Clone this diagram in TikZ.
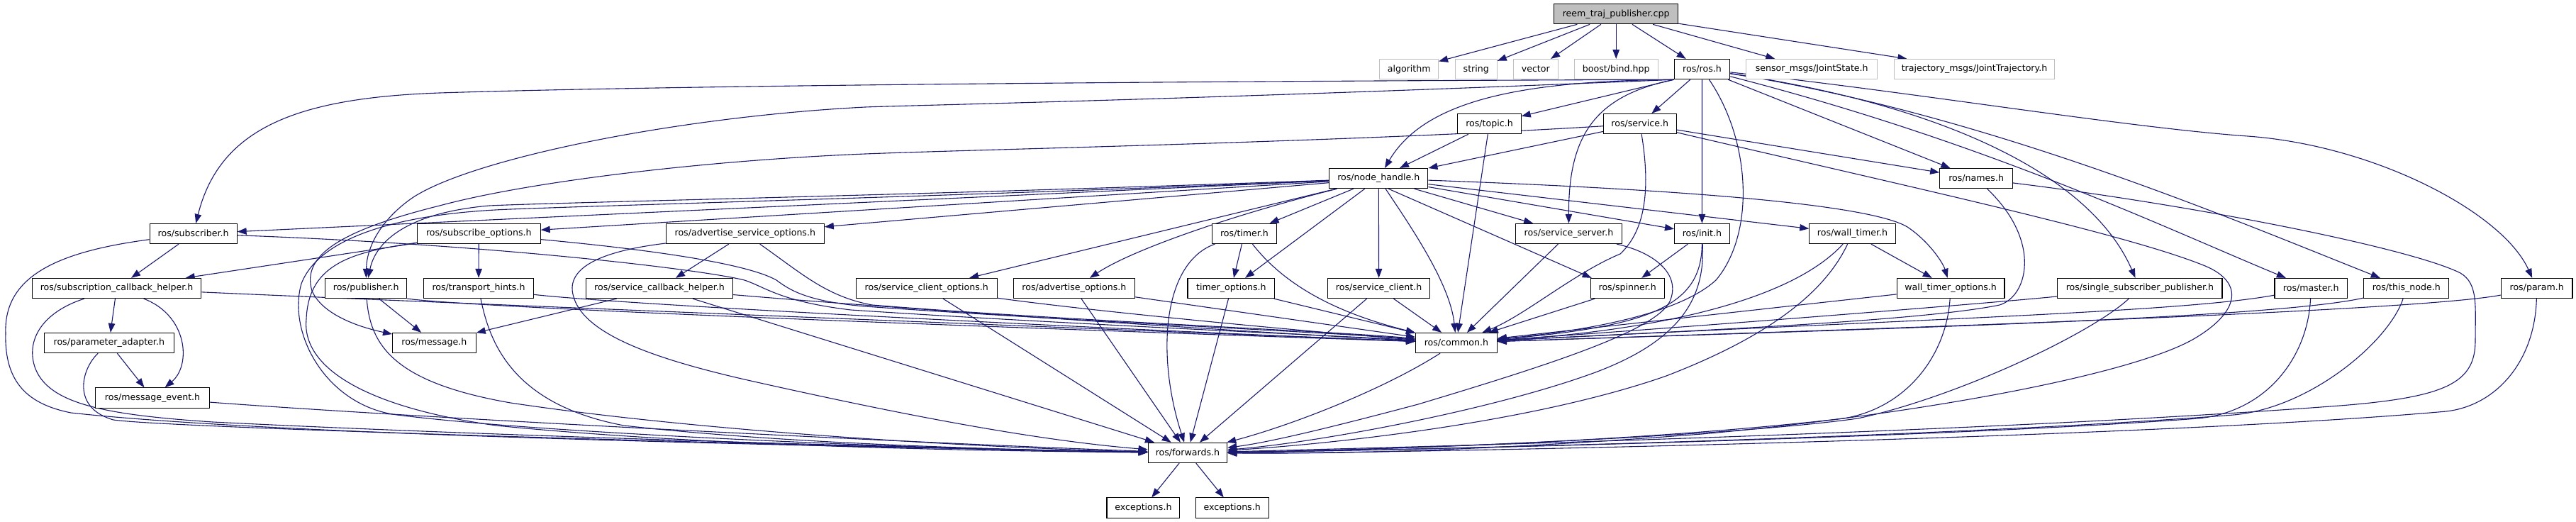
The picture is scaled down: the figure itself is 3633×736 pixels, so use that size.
\documentclass[tikz,border=0pt]{standalone}
\usepackage{fontspec}
\setmainfont{DejaVu Sans}
\usetikzlibrary{arrows.meta}
\definecolor{edgec}{RGB}{25,25,112}
\definecolor{grayb}{RGB}{191,191,191}
\definecolor{grayf}{RGB}{191,191,191}
\newcommand{\nodefont}{\fontsize{12.6pt}{15pt}\selectfont}
\pgfdeclarelayer{edgelayer}
\pgfsetlayers{edgelayer,main}
\tikzset{
  incbox/.style={draw=black, line width=1.1pt, fill=white, minimum height=28.2pt, inner sep=0pt, font=\nodefont, text=black},
  grbox/.style={incbox, draw=grayb},
  topbox/.style={incbox, fill=grayf},
  e/.style={draw=edgec, line width=1.1pt, -{Triangle[length=13pt,width=9.5pt]}},
}
\begin{document}
\begin{tikzpicture}[x=1pt,y=-1pt]
\useasboundingbox (0,0) rectangle (3633,736);
% ---------- nodes ----------
\node[topbox, minimum width=175pt] (main) at (2279.2,19.7) {reem\_traj\_publisher.cpp};
\node[grbox, minimum width=82.6pt] (alg) at (1987.2,97.6) {algorithm};
\node[grbox, minimum width=58.9pt] (str) at (2081.8,97.6) {string};
\node[grbox, minimum width=62.5pt] (vec) at (2165.8,97.6) {vector};
\node[grbox, minimum width=117.8pt] (boost) at (2279.2,97.6) {boost/bind.hpp};
\node[incbox, minimum width=78.4pt] (ros) at (2400.5,97.6) {ros/ros.h};
\node[grbox, minimum width=185.4pt] (sensor) at (2555.2,97.6) {sensor\_msgs/JointState.h};
\node[grbox, minimum width=226.6pt] (traj) at (2784.5,97.6) {trajectory\_msgs/JointTrajectory.h};
\node[incbox, minimum width=89.4pt] (topic) at (2100.5,174.6) {ros/topic.h};
\node[incbox, minimum width=102.7pt] (service) at (2312.7,174.6) {ros/service.h};
\node[incbox, minimum width=139.2pt] (nh) at (1944.3,251.6) {ros/node\_handle.h};
\node[incbox, minimum width=102.8pt] (names) at (2787.1,251.6) {ros/names.h};
\node[incbox, minimum width=123pt] (sub) at (272.6,329.5) {ros/subscriber.h};
\node[incbox, minimum width=173.7pt] (subopt) at (675.3,329.5) {ros/subscribe\_options.h};
\node[incbox, minimum width=223pt] (advsrvopt) at (1050.8,329.5) {ros/advertise\_service\_options.h};
\node[incbox, minimum width=90.5pt] (timer) at (1755,329.5) {ros/timer.h};
\node[incbox, minimum width=149.6pt] (srvserver) at (2212.5,329.5) {ros/service\_server.h};
\node[incbox, minimum width=77.8pt] (init) at (2400.4,329.5) {ros/init.h};
\node[incbox, minimum width=121.4pt] (walltimer) at (2612.5,329.5) {ros/wall\_timer.h};
\node[incbox, minimum width=238.8pt] (subcb) at (164.5,406.5) {ros/subscription\_callback\_helper.h};
\node[incbox, minimum width=115pt] (pub) at (516.2,406.5) {ros/publisher.h};
\node[incbox, minimum width=154.4pt] (transport) at (675,406.5) {ros/transport\_hints.h};
\node[incbox, minimum width=206.8pt] (srvcb) at (930,406.5) {ros/service\_callback\_helper.h};
\node[incbox, minimum width=199.3pt] (srvclopt) at (1306.8,406.5) {ros/service\_client\_options.h};
\node[incbox, minimum width=171.2pt] (advopt) at (1514.9,406.5) {ros/advertise\_options.h};
\node[incbox, minimum width=122.9pt] (timeropt) at (1736.4,406.5) {timer\_options.h};
\node[incbox, minimum width=144.3pt] (srvclient) at (1944.6,406.5) {ros/service\_client.h};
\node[incbox, minimum width=104pt] (spinner) at (2295.2,406.5) {ros/spinner.h};
\node[incbox, minimum width=151.8pt] (walltimeropt) at (2751.1,406.5) {wall\_timer\_options.h};
\node[incbox, minimum width=232.2pt] (ssp) at (3017.9,406.5) {ros/single\_subscriber\_publisher.h};
\node[incbox, minimum width=102.5pt] (master) at (3259.2,406.5) {ros/master.h};
\node[incbox, minimum width=120.2pt] (thisnode) at (3393.8,406.5) {ros/this\_node.h};
\node[incbox, minimum width=100.5pt] (param) at (3577.7,406.5) {ros/param.h};
\node[incbox, minimum width=182.6pt] (paramadapt) at (153.8,483.5) {ros/parameter\_adapter.h};
\node[incbox, minimum width=117.6pt] (message) at (612.4,483.5) {ros/message.h};
\node[incbox, minimum width=114.7pt] (common) at (2053.9,483.5) {ros/common.h};
\node[incbox, minimum width=160.6pt] (msgevent) at (215.1,561) {ros/message\_event.h};
\node[incbox, minimum width=111.5pt] (fwd) at (1674.9,638.4) {ros/forwards.h};
\node[incbox, minimum width=102.8pt] (exc1) at (1612.4,716) {exceptions.h};
\node[incbox, minimum width=102.8pt] (exc2) at (1737.7,716) {exceptions.h};
% ---------- edges ----------
\begin{pgfonlayer}{edgelayer}
% main
\draw[e] (main) -- (alg);
\draw[e] (main) -- (str);
\draw[e] (main) -- (vec);
\draw[e] (main) -- (boost);
\draw[e] (main) -- (ros);
\draw[e] (main) -- (sensor);
\draw[e] (main) -- (traj);
% ros.h
\draw[e] (ros.south west) .. controls (1500,115) and (900,122) .. (620,131) .. controls (420,138) and (310,180) .. (sub);
\draw[e] (ros.south west) .. controls (1700,140) and (1300,148) .. (1220,151) .. controls (950,165) and (660,225) .. (580,280) .. controls (535,312) and (517,350) .. (pub);
\draw[e] (ros.south west) .. controls (2150,114) and (2010,140) .. (nh);
\draw[e] (ros.south west) -- (topic);
\draw[e] (ros) -- (service);
\draw[e] (ros.south west) .. controls (2250,135) and (2212,190) .. (srvserver);
\draw[e] (ros) -- (init);
\draw[e] (ros) .. controls (2470,200) and (2475,330) .. (2420,395) .. controls (2360,450) and (2200,470) .. (common);
\draw[e] (ros) -- (names);
\draw[e] (ros) .. controls (2750,150) and (2950,250) .. (ssp);
\draw[e] (ros) .. controls (2800,200) and (3050,320) .. (master);
\draw[e] (ros) .. controls (2800,160) and (3150,310) .. (thisnode);
\draw[e] (ros) .. controls (2700,130) and (3000,180) .. (3170,192) .. controls (3350,205) and (3530,300) .. (param);
% service.h
\draw[e] (service) -- (nh);
\draw[e] (service) .. controls (1900,200) and (1400,210) .. (1220,217) .. controls (1000,226) and (750,255) .. (620,290) .. controls (480,325) and (425,360) .. (440,410) .. controls (455,445) and (510,462) .. (message);
\draw[e] (service) .. controls (2330,280) and (2315,330) .. (2285,358) .. controls (2220,385) and (2150,445) .. (common);
\draw[e] (service) -- (names);
\draw[e] (service) .. controls (2700,265) and (3000,330) .. (3110,375) .. controls (3165,398) and (3160,440) .. (3092,479) .. controls (3000,530) and (2700,585) .. (2400,612) .. controls (2100,635) and (1900,640) .. (fwd);
% names.h
\draw[e] (names) .. controls (2880,340) and (2860,418) .. (2820,430) .. controls (2700,455) and (2300,470) .. (common);
\draw[e] (names) .. controls (3100,290) and (3400,350) .. (3470,385) .. controls (3495,400) and (3491,430) .. (3491,480) .. controls (3491,540) and (3450,560) .. (3300,572) .. controls (2800,610) and (2000,630) .. (fwd);
% topic.h
\draw[e] (topic) -- (nh);
\draw[e] (topic) -- (common);
% node_handle.h
\draw[e] (nh) -- (sub);
\draw[e] (nh) -- (subopt);
\draw[e] (nh) -- (advsrvopt);
\draw[e] (nh) .. controls (1300,275) and (800,285) .. (690,290) .. controls (575,300) and (530,340) .. (pub);
\draw[e] (nh) -- (srvclopt);
\draw[e] (nh) .. controls (1750,300) and (1600,350) .. (advopt);
\draw[e] (nh) -- (timer);
\draw[e] (nh) -- (timeropt);
\draw[e] (nh) -- (srvclient);
\draw[e] (nh) .. controls (1990,320) and (2045,400) .. (common);
\draw[e] ([xshift=14pt]nh.south) -- ([xshift=2pt]spinner.north west);
\draw[e] (nh) -- (srvserver);
\draw[e] (nh) -- (init);
\draw[e] (nh) -- (walltimer);
\draw[e] (nh) .. controls (2400,268) and (2640,290) .. (2690,320) .. controls (2720,340) and (2740,370) .. (walltimeropt);
\draw[e] (nh) .. controls (1400,275) and (900,288) .. (720,295) .. controls (560,301) and (450,335) .. (425,400) .. controls (405,470) and (460,572) .. (560,585) .. controls (800,615) and (1400,636) .. (fwd);
% subscriber.h
\draw[e] (sub) -- (subcb);
\draw[e] (sub) .. controls (700,345) and (990,380) .. (1050,395) .. controls (1080,405) and (1100,425) .. (1200,437) .. controls (1500,457) and (1900,474) .. (common);
\draw[e] (sub) .. controls (80,355) and (5,390) .. (8,470) .. controls (6,540) and (40,570) .. (100,582) .. controls (400,615) and (1200,630) .. (fwd);
% subscription_callback_helper.h
\draw[e] (subcb) -- (paramadapt);
\draw[e] (subcb) .. controls (265,445) and (270,515) .. (msgevent);
\draw[e] (subcb) .. controls (60,440) and (35,480) .. (50,520) .. controls (70,570) and (150,585) .. (300,595) .. controls (700,615) and (1300,632) .. (fwd);
\draw[e] (subcb) .. controls (600,426) and (1500,462) .. (common);
% parameter_adapter.h
\draw[e] (paramadapt) -- (msgevent);
\draw[e] (paramadapt) .. controls (115,520) and (100,575) .. (160,592) .. controls (250,605) and (1300,633) .. (fwd);
% message_event.h
\draw[e] (msgevent) .. controls (600,590) and (1300,625) .. (fwd);
% publisher.h
\draw[e] (pub) -- (message);
\draw[e] (pub) .. controls (522,490) and (560,540) .. (720,568) .. controls (1000,610) and (1400,632) .. (fwd);
\draw[e] (pub.south east) .. controls (700,437) and (1600,468) .. (common);
% subscribe_options.h
\draw[e] (subopt) -- (subcb);
\draw[e] (subopt) -- (transport);
\draw[e] (subopt) .. controls (950,355) and (1060,375) .. (1095,395) .. controls (1115,410) and (1140,425) .. (1220,432) .. controls (1500,452) and (1900,470) .. (common);
\draw[e] (subopt) .. controls (500,355) and (435,370) .. (432,450) .. controls (425,520) and (520,575) .. (700,600) .. controls (1000,630) and (1400,636) .. (fwd);
% transport_hints.h
\draw[e] (transport) .. controls (900,432) and (1700,470) .. (common);
\draw[e] (transport) .. controls (690,480) and (720,570) .. (880,600) .. controls (1100,625) and (1400,634) .. (fwd);
% advertise_service_options.h
\draw[e] (advsrvopt) -- (srvcb);
\draw[e] (advsrvopt) .. controls (1130,385) and (1165,418) .. (1230,430) .. controls (1500,452) and (1900,468) .. (common);
\draw[e] (advsrvopt) .. controls (840,355) and (800,380) .. (808,415) .. controls (820,470) and (920,505) .. (1050,535) .. controls (1250,580) and (1450,620) .. (fwd);
% service_callback_helper.h
\draw[e] (srvcb) -- (message);
\draw[e] (srvcb) .. controls (1200,430) and (1700,465) .. (common);
\draw[e] (srvcb) -- (fwd);
% service_client_options.h
\draw[e] (srvclopt) .. controls (1550,440) and (1850,468) .. (common);
\draw[e] (srvclopt) -- (fwd);
% advertise_options.h
\draw[e] (advopt) -- (common);
\draw[e] (advopt) -- (fwd);
% timer.h
\draw[e] (timer) -- (timeropt);
\draw[e] (timer) .. controls (1810,400) and (1880,440) .. (common);
\draw[e] (timer) .. controls (1640,370) and (1630,500) .. (fwd);
% timer_options.h
\draw[e] (timeropt) -- (common);
\draw[e] (timeropt) -- (fwd);
% service_client.h
\draw[e] (srvclient) -- (common);
\draw[e] (srvclient) -- (fwd);
% service_server.h
\draw[e] (srvserver) -- (common);
\draw[e] (srvserver) .. controls (2330,355) and (2372,385) .. (2355,425) .. controls (2335,465) and (2200,510) .. (2000,570) .. controls (1850,610) and (1780,625) .. (fwd);
% init.h
\draw[e] (init) -- (spinner);
\draw[e] (init) .. controls (2400,430) and (2330,460) .. (common);
\draw[e] (init) .. controls (2405,420) and (2370,480) .. (2250,525) .. controls (2100,580) and (1850,625) .. (fwd);
% spinner.h
\draw[e] (spinner) -- (common);
% wall_timer.h
\draw[e] (walltimer) -- (walltimeropt);
\draw[e] (walltimer) .. controls (2530,420) and (2350,465) .. (common);
\draw[e] (walltimer) .. controls (2570,420) and (2480,480) .. (2350,530) .. controls (2150,600) and (1850,628) .. (fwd);
% wall_timer_options.h
\draw[e] (walltimeropt) -- (common);
\draw[e] (walltimeropt) .. controls (2745,500) and (2690,575) .. (2600,590) .. controls (2300,625) and (1900,635) .. (fwd);
% single_subscriber_publisher.h
\draw[e] (ssp) .. controls (2800,428) and (2400,460) .. (common);
\draw[e] (ssp) .. controls (2950,470) and (2760,560) .. (2620,590) .. controls (2420,618) and (1900,636) .. (fwd);
% master.h
\draw[e] (master) .. controls (3080,440) and (2700,450) .. (common);
\draw[e] (master) .. controls (3255,500) and (3200,580) .. (3100,590) .. controls (2700,620) and (1900,636) .. (fwd);
% this_node.h
\draw[e] (thisnode) .. controls (3200,450) and (2600,465) .. (common);
\draw[e] (thisnode) .. controls (3370,480) and (3260,575) .. (3150,585) .. controls (2700,620) and (1900,636) .. (fwd);
% param.h
\draw[e] (param) .. controls (3400,440) and (2600,465) .. (common);
\draw[e] (param) .. controls (3575,510) and (3520,572) .. (3450,580) .. controls (3000,620) and (1900,640) .. (fwd);
% common.h
\draw[e] (common) .. controls (1950,550) and (1820,600) .. (fwd);
% forwards.h
\draw[e] (fwd) -- (exc1);
\draw[e] (fwd) -- (exc2);
\end{pgfonlayer}
\end{tikzpicture}
\end{document}
